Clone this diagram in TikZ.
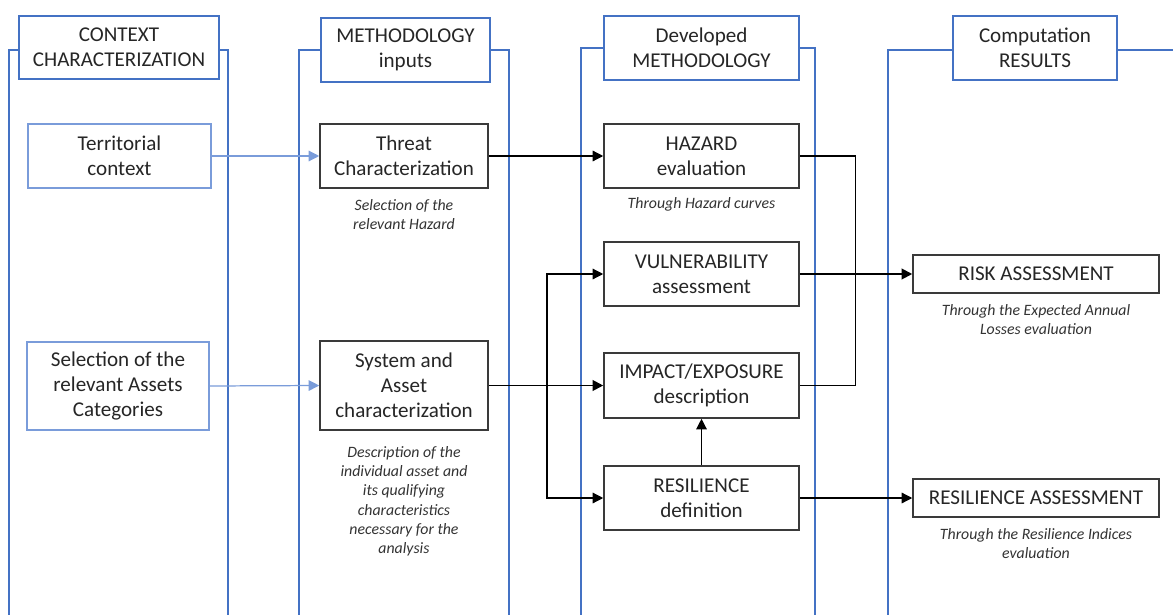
\documentclass[tikz,border=0pt]{standalone}
\usepackage{fontspec}
\setmainfont{Carlito}
\usepackage{tikz}
\usetikzlibrary{arrows.meta,positioning}
\definecolor{frameblue}{HTML}{4472C4}
\definecolor{paleblue}{HTML}{7A9CDA}
\definecolor{boxgray}{HTML}{3A3A3A}
\definecolor{textgray}{HTML}{262626}
\definecolor{notegray}{HTML}{333333}

\tikzset{
  column/.style={draw=frameblue, line width=1.2pt},
  header/.style={draw=frameblue, line width=1.2pt, fill=white, align=center,
    text=textgray, font=\fontsize{12}{14.2}\selectfont, inner sep=0pt},
  inbox/.style={draw=paleblue, line width=0.8pt, fill=white, align=center,
    text=textgray, font=\fontsize{12}{14.2}\selectfont, inner sep=0pt},
  stepbox/.style={draw=boxgray, line width=0.9pt, fill=white, align=center,
    text=textgray, font=\fontsize{12}{14.2}\selectfont, inner sep=0pt},
  note/.style={align=center, text=notegray, inner sep=0pt,
    font=\fontsize{9}{11}\selectfont\itshape},
  link/.style={draw=black, line width=0.7pt, -{Triangle[length=6pt,width=6pt]}},
  bluelink/.style={draw=paleblue, line width=0.7pt, -{Triangle[length=6pt,width=6pt]}},
}

\begin{document}
\begin{tikzpicture}[x=0.02cm, y=-0.02cm]
  \useasboundingbox[fill=white] (0,0) rectangle (1173,615);

  % column frames
  \draw[column] (9,615) |- (228,50) -- (228,615);
  \draw[column] (299,615) |- (509,50) -- (509,615);
  \draw[column] (581,615) |- (815,48) -- (815,615);
  \draw[column] (888,615) |- (1173,50);

  % column headers
  \node[header, minimum width=4cm, minimum height=1.26cm] (ctxhead) at (119,47.5)
    {CONTEXT\\CHARACTERIZATION};
  \node[header, minimum width=3.38cm, minimum height=1.28cm] (inhead) at (405.5,50)
    {METHODOLOGY\\inputs};
  \node[header, minimum width=3.9cm, minimum height=1.28cm] (devhead) at (701.5,48)
    {Developed\\METHODOLOGY};
  \node[header, minimum width=3.28cm, minimum height=1.28cm] (reshead) at (1035,48)
    {Computation\\RESULTS};

  % context
  \node[inbox, minimum width=3.66cm, minimum height=1.28cm] (territory) at (119.5,156)
    {Territorial\\context};
  \node[inbox, minimum width=3.64cm, minimum height=1.76cm] (assets) at (118,386)
    {Selection of the\\relevant Assets\\Categories};

  % inputs
  \node[stepbox, minimum width=3.36cm, minimum height=1.28cm] (threat) at (404,156)
    {Threat\\Characterization};
  \node[note, below=0.2cm of threat] (threatnote)
    {Selection of the\\relevant Hazard};
  \node[stepbox, minimum width=3.36cm, minimum height=1.78cm] (system) at (404,385.5)
    {System and\\Asset\\characterization};
  \node[note, below=0.3cm of system] (systemnote)
    {Description of the\\individual asset and\\its qualifying\\characteristics\\necessary for the\\analysis};

  % methodology
  \node[stepbox, minimum width=3.9cm, minimum height=1.28cm] (hazard) at (701.5,156)
    {HAZARD\\evaluation};
  \node[note, below=0.16cm of hazard] (hazardnote) {Through Hazard curves};
  \node[stepbox, minimum width=3.9cm, minimum height=1.28cm] (vuln) at (701.5,274)
    {VULNERABILITY\\assessment};
  \node[stepbox, minimum width=3.9cm, minimum height=1.3cm] (impact) at (701.5,385.5)
    {IMPACT/EXPOSURE\\description};
  \node[stepbox, minimum width=3.9cm, minimum height=1.28cm] (resil) at (701.5,498)
    {RESILIENCE\\definition};

  % results
  \node[stepbox, minimum width=4.92cm, minimum height=0.76cm] (risk) at (1036,274)
    {RISK ASSESSMENT};
  \node[note, below=0.2cm of risk] (risknote)
    {Through the Expected Annual\\Losses evaluation};
  \node[stepbox, minimum width=4.92cm, minimum height=0.76cm] (resass) at (1036,498)
    {RESILIENCE ASSESSMENT};
  \node[note, below=0.2cm of resass] (resassnote)
    {Through the Resilience Indices\\evaluation};

  % connectors
  \draw[bluelink] (territory.east) -- (threat.west);
  \draw[bluelink] (assets.east) -- (system.west);
  \draw[link] (threat.east) -- (hazard.west);
  \draw[link, line width=1.1pt] (system.east) -- (impact.west);
  \coordinate (split) at (547,385.5);
  \draw[link] (split) |- (vuln.west);
  \draw[link] (split) |- (resil.west);
  \draw[link] (resil.north) -- (impact.south);
  \draw[line width=0.7pt] (hazard.east) -- ++(56,0) |- (impact.east);
  \draw[link, line width=1.1pt] (vuln.east) -- (risk.west);
  \draw[link] (resil.east) -- (resass.west);
\end{tikzpicture}
\end{document}
